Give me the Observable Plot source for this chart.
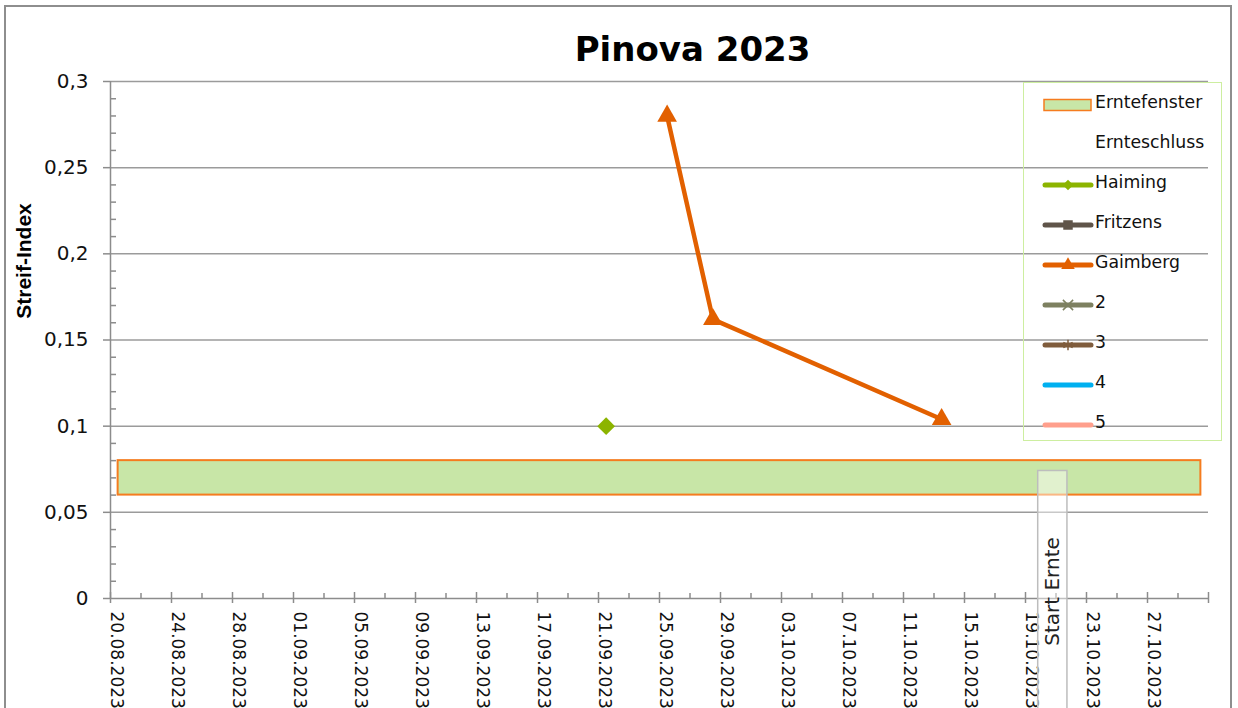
<!DOCTYPE html>
<html>
<head>
<meta charset="utf-8">
<script src="https://cdn.jsdelivr.net/npm/d3@7"></script>
<script src="https://cdn.jsdelivr.net/npm/@observablehq/plot@0.6"></script>
<style>
  html, body { margin: 0; padding: 0; background: #fff; overflow: hidden; }
  #wrap { position: relative; width: 1238px; height: 708px; overflow: hidden; font-family: "DejaVu Sans", sans-serif; }
  #frame { position: absolute; left: 4px; top: 5px; width: 1228px; height: 800px; border: 2px solid #8e8e8e; box-sizing: border-box; pointer-events: none; }
  #legend { position: absolute; left: 1023px; top: 82px; width: 199px; height: 359px; border: 1.5px solid #cdeea0; box-sizing: border-box; }
  .lrow { position: absolute; left: 0; height: 24px; width: 190px; }
  .lrow svg { position: absolute; left: 18px; top: 2px; }
  .lrow span { position: absolute; left: 71px; top: 0px; font-size: 17.3px; color: #111; font-family: "DejaVu Sans", sans-serif; white-space: nowrap; }
</style>
</head>
<body>
<div id="wrap"><div id="chart"></div><div id="legend"></div><div id="frame"></div></div>
<script>
// ---- data ----
const title = "Pinova 2023";
const yLabel = "Streif-Index";
const xDomainDates = ["2023-08-20", "2023-10-31"];
const xTickDates = ["2023-08-20","2023-08-24","2023-08-28","2023-09-01","2023-09-05","2023-09-09",
  "2023-09-13","2023-09-17","2023-09-21","2023-09-25","2023-09-29","2023-10-03","2023-10-07",
  "2023-10-11","2023-10-15","2023-10-19","2023-10-23","2023-10-27"];
const xEndTick = "2023-10-31";
const yTicks = [0, 0.05, 0.1, 0.15, 0.2, 0.25, 0.3];

const haimingDates = ["2023-09-21"];
const haimingValues = [0.1];
const fritzensDates = [];
const fritzensValues = [];
const gaimbergDates = ["2023-09-25", "2023-09-28", "2023-10-13"];
const gaimbergValues = [0.28, 0.162, 0.104];

const windowStart = "2023-08-20";
const windowEnd = "2023-10-30";
const windowLow = 0.06;
const windowHigh = 0.08;

const startErnteFrom = "2023-10-19T20:00";
const startErnteTo = "2023-10-21T18:00";
const startErnteTop = 0.074;
const startErnteBottom = -0.066;
const startErnteLabel = "Start Ernte";

const legendNames = ["Erntefenster", "Ernteschluss", "Haiming", "Fritzens", "Gaimberg", "2", "3", "4", "5"];
const legendColors = ["#f57c1f", null, "#8cb400", "#5f5449", "#e26000", "#7d8060", "#7f5c3c", "#00b0f0", "#ff9f8c"];
const legendSymbols = ["box", "none", "diamond", "square", "triangle", "x", "star", "none", "none"];

// ---- helpers ----
const parseDay = d3.utcParse("%Y-%m-%d");
const parseDT = d3.utcParse("%Y-%m-%dT%H:%M");
const noon = s => d3.utcHour.offset(parseDay(s), 12);
const fmtDate = d3.utcFormat("%d.%m.%Y");
const xDomain = xDomainDates.map(parseDay);
const allDays = d3.utcDay.range(xDomain[0], d3.utcDay.offset(xDomain[1], 1));
const majorTicks = xTickDates.map(parseDay).concat([parseDay(xEndTick)]);
const minorTicks = allDays.filter((d, i) => i % 2 === 0 && i % 4 !== 0);
const yMinor = d3.range(0, 31).map(i => i / 100).filter(v => Math.round(v * 100) % 5 !== 0);

const haiming = haimingDates.map((d, i) => ({date: noon(d), value: haimingValues[i]}));
const fritzens = fritzensDates.map((d, i) => ({date: noon(d), value: fritzensValues[i]}));
const gaimberg = gaimbergDates.map((d, i) => ({date: noon(d), value: gaimbergValues[i]}));

const axisColor = "#8c8c8c";
const gridColor = "#9b9b9b";

const chart = Plot.plot({
  width: 1238,
  height: 708,
  marginLeft: 110,
  marginRight: 30,
  marginTop: 81,
  marginBottom: 110,
  style: {background: "transparent", fontFamily: "DejaVu Sans, sans-serif", overflow: "visible"},
  x: {type: "utc", domain: xDomain},
  y: {domain: [0, 0.3]},
  marks: [
    // gridlines
    Plot.ruleY(yTicks.filter(v => v > 0), {stroke: gridColor, strokeWidth: 1.5}),
    // Erntefenster band
    Plot.rect([0], {x1: () => noon(windowStart), x2: () => noon(windowEnd), y1: () => windowLow, y2: () => windowHigh,
      fill: "#c8e6a7", stroke: "#f57c1f", strokeWidth: 2}),
    // axes lines
    Plot.ruleY([0], {stroke: axisColor, strokeWidth: 1.5}),
    Plot.ruleX([xDomain[0]], {stroke: axisColor, strokeWidth: 1.5}),
    // y axis
    Plot.axisY({ticks: yTicks, tickSize: 7, tickPadding: 15, fontSize: 20, stroke: axisColor, strokeWidth: 1.5,
      fill: "#111", tickFormat: d => String(d).replace(".", ","), label: null}),
    Plot.axisY({ticks: yMinor, tickSize: 6, dx: 6, fill: "none", stroke: axisColor, strokeWidth: 1.5, label: null}),
    // x axis ticks
    Plot.axisX({ticks: majorTicks, tickSize: 5, fill: "none", stroke: axisColor, strokeWidth: 1.5, label: null}),
    Plot.axisX({ticks: majorTicks, tickSize: 6, dy: -6, fill: "none", stroke: axisColor, strokeWidth: 1.5, label: null}),
    Plot.axisX({ticks: minorTicks, tickSize: 5, dy: -5, fill: "none", stroke: axisColor, strokeWidth: 1.5, label: null}),
    // x tick labels
    Plot.text(xTickDates, {x: d => parseDay(d), text: d => fmtDate(parseDay(d)), frameAnchor: "bottom",
      rotate: 90, textAnchor: "start", lineAnchor: "middle", dy: 13, dx: 6, fontSize: 17, fill: "#111"}),
    // series
    Plot.line(haiming, {x: "date", y: "value", stroke: "#8cb400", strokeWidth: 4.5}),
    Plot.dot(haiming, {x: "date", y: "value", symbol: "diamond2", r: 8, fill: "#8cb400", stroke: "none"}),
    Plot.line(fritzens, {x: "date", y: "value", stroke: "#5f5449", strokeWidth: 4.5}),
    Plot.line(gaimberg, {x: "date", y: "value", stroke: "#e26000", strokeWidth: 4.5}),
    Plot.dot(gaimberg, {x: "date", y: "value", symbol: "triangle", r: 7.3, fill: "#e26000", stroke: "none"}),
    // Start Ernte box
    Plot.rect([0], {x1: () => parseDT(startErnteFrom), x2: () => parseDT(startErnteTo), y1: () => startErnteBottom, y2: () => startErnteTop,
      fill: "#ffffff", fillOpacity: 0.45, stroke: "#bdbdbd", strokeWidth: 1.5}),
    Plot.text([startErnteLabel], {x: () => new Date((parseDT(startErnteFrom).getTime() + parseDT(startErnteTo).getTime()) / 2),
      frameAnchor: "bottom", dy: -7, rotate: -90, textAnchor: "middle", lineAnchor: "middle", fontSize: 20, fill: "#222"}),
    // title
    Plot.text([title], {frameAnchor: "top", dx: 33, dy: -31, fontSize: 34, fontWeight: "bold", fill: "#000", lineAnchor: "middle"}),
    // y label
    Plot.text([yLabel], {frameAnchor: "left", dx: -86, dy: -79, rotate: -90, textAnchor: "middle", fontSize: 21, fontWeight: "bold",
      fontFamily: "Liberation Sans, sans-serif", fill: "#000", lineAnchor: "middle"})
  ]
});
document.getElementById("chart").appendChild(chart);

// ---- legend ----
const legend = d3.select("#legend");
legendNames.forEach((name, i) => {
  const row = legend.append("div").attr("class", "lrow").style("top", (20 + i * 40 - 11) + "px");
  const svg = row.append("svg").attr("width", 52).attr("height", 22);
  const col = legendColors[i];
  const sym = legendSymbols[i];
  if (sym === "box") {
    svg.append("rect").attr("x", 2).attr("y", 5.5).attr("width", 47).attr("height", 11)
      .attr("fill", "#c8e6a7").attr("stroke", col).attr("stroke-width", 1.5);
  } else if (col) {
    svg.append("line").attr("x1", 3).attr("x2", 49).attr("y1", 11).attr("y2", 11)
      .attr("stroke", col).attr("stroke-width", 5).attr("stroke-linecap", "round");
    const g = svg.append("g").attr("transform", "translate(26,11)");
    if (sym === "diamond") g.append("path").attr("d", d3.symbol(d3.symbolDiamond2, 70)()).attr("fill", col);
    if (sym === "square") g.append("path").attr("d", d3.symbol(d3.symbolSquare, 90)()).attr("fill", col);
    if (sym === "triangle") g.append("path").attr("d", d3.symbol(d3.symbolTriangle, 80)()).attr("fill", col);
    if (sym === "x") g.append("path").attr("d", d3.symbol(d3.symbolX, 70)()).attr("stroke", col).attr("stroke-width", 1.5).attr("fill", "none");
    if (sym === "star") g.append("path").attr("d", d3.symbol(d3.symbolAsterisk, 80)()).attr("stroke", col).attr("stroke-width", 1.5).attr("fill", "none");
  }
  row.append("span").text(name);
});
</script>
</body>
</html>
